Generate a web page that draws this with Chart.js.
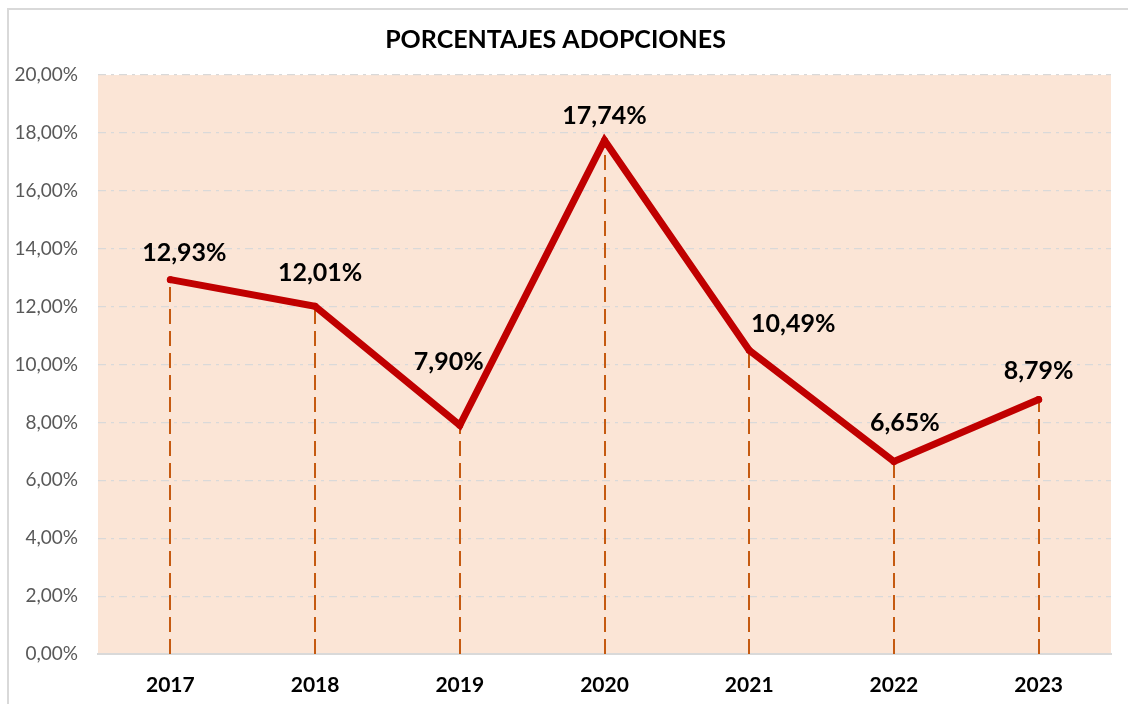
<!DOCTYPE html>
<html><head><meta charset="utf-8">
<script src="https://cdn.jsdelivr.net/npm/chart.js@4.4.1/dist/chart.umd.min.js"></script>
<style>html,body{margin:0;padding:0;background:#fff;}#wrap{width:1128px;height:704px;position:relative;}</style>
</head><body><div id="wrap"><canvas id="c" width="1128" height="704"></canvas></div>
<script>
const categories = ['2017','2018','2019','2020','2021','2022','2023'];
const percentages = [12.93, 12.01, 7.90, 17.74, 10.49, 6.65, 8.79];
const yTicks = [0, 2, 4, 6, 8, 10, 12, 14, 16, 18, 20];
const chartTitle = 'PORCENTAJES ADOPCIONES';
// label offsets in pixels (style, not data)
const labelOffsets = [[14,-27],[5,-33],[-11,-63],[0,-24],[44,-26],[11,-39],[0,-29]];

const fmt = v => v.toFixed(2).replace('.', ',') + '%';
const FONT = 'Lato, "Open Sans", sans-serif';

const decor = {
  id: 'decor',
  beforeDraw(chart) {
    const {ctx, chartArea: a} = chart;
    ctx.save();
    ctx.strokeStyle = '#D9D9D9'; ctx.lineWidth = 2;
    ctx.strokeRect(8, 9, 1130, 710);
    ctx.fillStyle = '#FBE5D6';
    ctx.fillRect(a.left, a.top, a.right - a.left, a.bottom - a.top);
    ctx.restore();
  },
  beforeDatasetsDraw(chart) {
    const {ctx, scales: {x, y}} = chart;
    ctx.save();
    ctx.strokeStyle = '#C55A11'; ctx.lineWidth = 2; ctx.setLineDash([15, 7]);
    percentages.forEach((v, i) => {
      const px = Math.round(x.getPixelForValue(i));
      ctx.beginPath(); ctx.moveTo(px, y.getPixelForValue(0)); ctx.lineTo(px, y.getPixelForValue(v)); ctx.stroke();
    });
    ctx.restore();
  },
  afterDraw(chart) {
    const {ctx, scales: {x, y}} = chart;
    ctx.save();
    ctx.fillStyle = '#000'; ctx.font = 'bold 25px ' + FONT;
    ctx.textAlign = 'center'; ctx.textBaseline = 'middle';
    percentages.forEach((v, i) => {
      const o = labelOffsets[i];
      ctx.fillText(fmt(v), x.getPixelForValue(i) + o[0], y.getPixelForValue(v) + o[1]);
    });
    ctx.restore();
  }
};

new Chart(document.getElementById('c'), {
  type: 'line',
  data: { labels: categories, datasets: [{
    data: percentages, borderColor: '#C00000', backgroundColor: '#C00000',
    borderWidth: 7, pointRadius: 3.5, pointBorderWidth: 0, pointHoverRadius: 3.5, tension: 0,
    borderCapStyle: 'round', borderJoinStyle: 'miter', clip: false
  }]},
  options: {
    responsive: false, animation: false, devicePixelRatio: 1,
    layout: { padding: { left: 0, right: 17, top: 0, bottom: 0 } },
    plugins: {
      legend: { display: false }, tooltip: { enabled: false },
      title: { display: true, text: chartTitle, color: '#000',
        font: { family: FONT, size: 25, weight: 'bold' }, padding: { top: 25, bottom: 20 } }
    },
    scales: {
      x: {
        offset: true,
        grid: { display: false, drawTicks: false },
        border: { display: true, color: '#D9D9D9', width: 2 },
        ticks: { color: '#000', font: { family: FONT, size: 21, weight: 'bold' }, padding: 19 },
        afterFit(s) { s.height = 50; }
      },
      y: {
        min: 0, max: 20,
        afterBuildTicks(s) { s.ticks = yTicks.map(v => ({ value: v })); },
        grid: { color: c => c.tick.value === 0 ? 'rgba(0,0,0,0)' : '#D9D9D9', lineWidth: 1.2, drawTicks: false },
        border: { display: false, dash: [8, 5, 3, 5] },
        ticks: { color: '#595959', font: { family: FONT, size: 19 }, padding: 20, callback: v => fmt(v) },
        afterFit(s) { s.width = 98; }
      }
    }
  },
  plugins: [decor]
});
</script></body></html>
